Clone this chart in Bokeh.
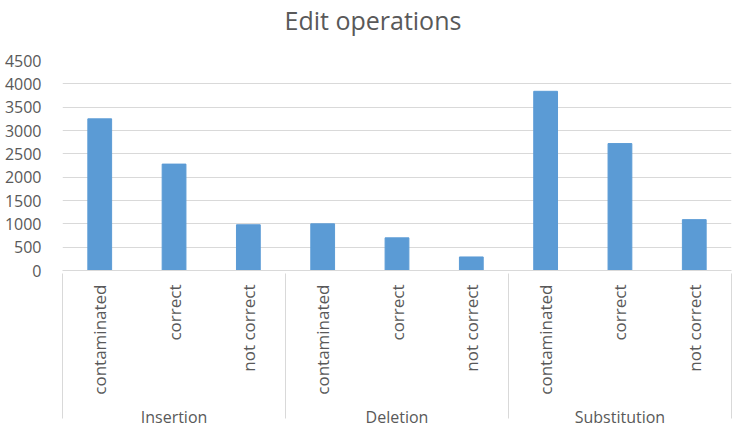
import math
from bokeh.plotting import figure
from bokeh.models import FactorRange, ColumnDataSource, Range1d, FixedTicker
from bokeh.embed import file_html
from bokeh.resources import INLINE

groups = ["Insertion", "Deletion", "Substitution"]
subcats = ["contaminated", "correct", "not correct"]
insertion = [3250, 2280, 980]
deletion = [1000, 700, 290]
substitution = [3840, 2720, 1090]
y_ticks = [0, 500, 1000, 1500, 2000, 2500, 3000, 3500, 4000, 4500]

series = {"Insertion": insertion, "Deletion": deletion, "Substitution": substitution}
x = [(g, s) for g in groups for s in subcats]
counts = [v for g in groups for v in series[g]]
source = ColumnDataSource(data=dict(x=x, counts=counts))

# empty edge groups (trimmed away by negative padding) so that the axis draws
# its separator lines at both outer edges as well
factors = [(" ", " ")] + x + [("  ", " ")]

TXT = "#595959"
GRID = "#D9D9D9"
FONT = "Open Sans"

p = figure(
    x_range=FactorRange(*factors, group_padding=0, factor_padding=0,
                        range_padding=-0.999, range_padding_units="absolute"),
    y_range=Range1d(0, 4500),
    width=734, height=431,
    output_backend="svg", toolbar_location=None,
    title="Edit operations",
    min_border_left=62, min_border_right=3, min_border_top=60, min_border_bottom=161,
)
p.vbar(x="x", top="counts", width=0.32, source=source,
       fill_color="#5B9BD5", line_color="#5B9BD5")

p.title.align = "left"
p.title.offset = 222
p.title.text_font = FONT
p.title.text_font_size = "25px"
p.title.text_font_style = "normal"
p.title.text_color = TXT
p.title.standoff = 0
p.title.padding = dict(left=0, right=0, top=0, bottom=24)

p.outline_line_color = None
p.xgrid.grid_line_color = None
p.ygrid.grid_line_color = GRID
p.ygrid.grid_line_width = 1

p.yaxis.ticker = FixedTicker(ticks=y_ticks)
p.yaxis.axis_line_color = None
p.yaxis.major_tick_line_color = None
p.yaxis.minor_tick_line_color = None
p.yaxis.major_label_standoff = 15
p.yaxis.major_label_text_font = FONT
p.yaxis.major_label_text_font_size = "16px"
p.yaxis.major_label_text_color = TXT

xa = p.xaxis[0]
xa.axis_line_color = GRID
xa.major_tick_line_color = None
xa.minor_tick_line_color = None
xa.major_label_orientation = math.pi / 2
xa.major_label_standoff = 8
xa.major_label_text_font = FONT
xa.major_label_text_font_size = "17px"
xa.major_label_text_color = TXT
xa.group_text_font = FONT
xa.group_text_font_size = "16px"
xa.group_text_color = TXT
xa.group_text_font_style = "normal"
xa.separator_line_color = GRID
xa.separator_line_width = 1

open("out.html", "w").write(file_html(p, INLINE))
